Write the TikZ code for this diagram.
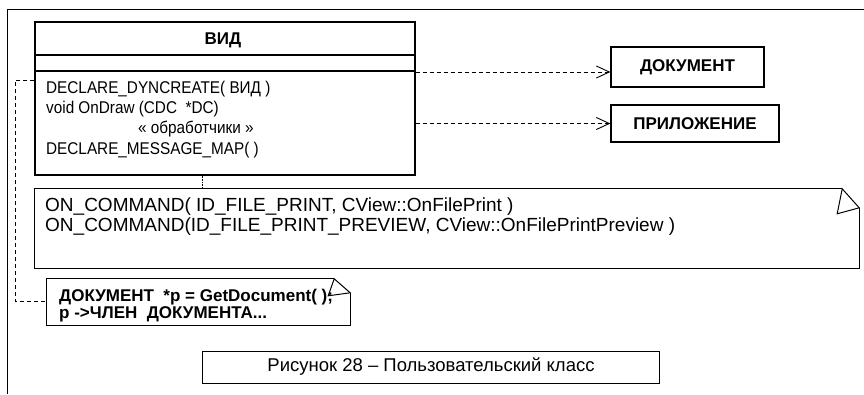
\documentclass[tikz,border=0pt]{standalone}
\usepackage{fontspec}
\setmainfont{Liberation Sans}
\newfontfamily\narrowfont[FakeStretch=0.9]{Liberation Sans}
\usetikzlibrary{arrows.meta}
\begin{document}
\begin{tikzpicture}[x=1pt,y=-1pt,
  box/.style={draw,line width=1.2pt,rectangle,inner sep=0pt},
  txt/.style={anchor=west,inner sep=0pt,font=\narrowfont\fontsize{17}{19}\selectfont},
  ctxt/.style={anchor=west,inner sep=0pt,font=\fontsize{19}{21}\selectfont},
  btxt/.style={anchor=west,inner sep=0pt,font=\fontsize{17}{19}\selectfont\bfseries},
  dep/.style={draw,dash pattern=on 4pt off 3pt,line width=0.8pt,-{Straight Barb[length=13pt,width=12pt,line width=0.9pt]}},
  link/.style={draw,dash pattern=on 4pt off 3pt,line width=0.8pt},
  note/.style={draw,line width=1.2pt,line join=miter}]
\useasboundingbox (0,0) rectangle (864,394);
% outer frame
\draw[line width=0.7pt] (864,9) -- (7,9) -- (7,394);
% class box
\node[box,minimum width=380pt,minimum height=153pt] (vid) at (225,98.5) {};
\draw[line width=1.2pt] (35,55) -- (415,55);
\draw[line width=1.2pt] (35,71) -- (415,71);
\node[btxt,anchor=center] (vidt) at (223,40) {ВИД};
\node[txt] (l1) at (46,89) {DECLARE\_DYNCREATE( ВИД )};
\node[txt] (l2) at (46,109) {void OnDraw (CDC~ *DC)};
\node[txt] (l3) at (138,129) {« обработчики »};
\node[txt] (l4) at (46,150) {DECLARE\_MESSAGE\_MAP( )};
% right boxes
\node[box,font=\fontsize{17}{19}\selectfont\bfseries,minimum width=153pt,minimum height=40pt] (doc) at (687.5,67) {ДОКУМЕНТ};
\node[box,font=\fontsize{17}{19}\selectfont\bfseries,minimum width=168pt,minimum height=37pt] (app) at (695,123.5) {ПРИЛОЖЕНИЕ};
\coordinate (d1) at ([yshift=-5pt]doc.west);
\draw[dep] (d1 -| vid.east) -- (d1);
\draw[dep] (app.west -| vid.east) -- (app.west);
% middle note
\node[minimum width=824pt,minimum height=79pt,inner sep=0pt] (cmd) at (447,228.5) {};
\draw[note] ([xshift=-17pt]cmd.north east) -- (cmd.north west) -- (cmd.south west) -- (cmd.south east) -- ([yshift=-19pt]cmd.north east);
\draw[line width=1pt,line join=miter] ([xshift=-17pt]cmd.north east) -- ([yshift=-19pt]cmd.north east) -- ([xshift=-22pt,yshift=-25pt]cmd.north east) -- cycle;
\node[ctxt] (c1) at (45,207) {ON\_COMMAND( ID\_FILE\_PRINT, CView::OnFilePrint )};
\node[ctxt] (c2) at (45,227) {ON\_COMMAND(ID\_FILE\_PRINT\_PREVIEW, CView::OnFilePrintPreview )};
\coordinate (t1) at ([xshift=-23pt]vid.south);
\draw[densely dotted,line width=0.6pt] (t1) -- (t1 |- cmd.north);
% bottom note
\node[minimum width=303pt,minimum height=46pt,inner sep=0pt] (code) at (198.5,302) {};
\draw[note] ([xshift=-16pt]code.north east) -- (code.north west) -- (code.south west) -- (code.south east) -- ([yshift=-14pt]code.north east);
\draw[line width=1pt,line join=miter] ([xshift=-16pt]code.north east) -- ([yshift=-14pt]code.north east) -- ([xshift=-22pt,yshift=-17pt]code.north east) -- cycle;
\node[btxt] (k1) at (59,297) {ДОКУМЕНТ~ *p = GetDocument( );};
\node[btxt] (k2) at (59,314) {p ->ЧЛЕН~ ДОКУМЕНТА...};
\coordinate (v1) at (vid.north west |- 0,80);
\coordinate (k0) at (code.west |- 0,301);
\draw[link] (v1) -- ++(-19,0) |- (k0);
% caption
\node[draw,line width=0.6pt,minimum width=457pt,minimum height=32pt,font=\fontsize{18.5}{21}\selectfont] (cap) at (431,367) {Рисунок 28 – Пользовательский класс};
\end{tikzpicture}
\end{document}
